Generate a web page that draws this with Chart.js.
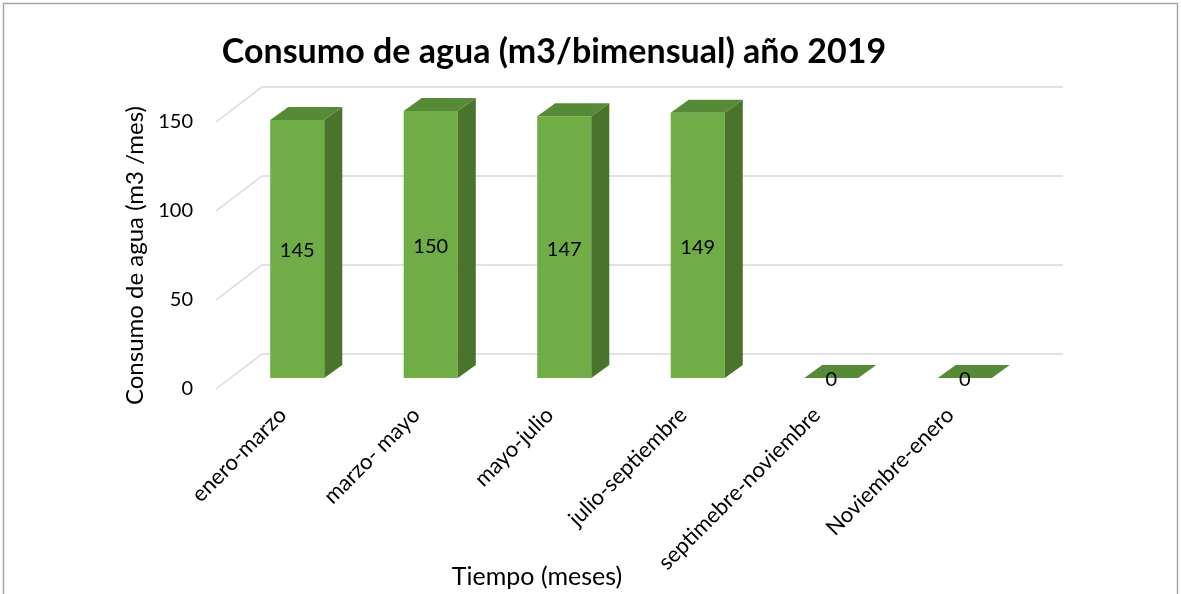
<!DOCTYPE html>
<html>
<head>
<meta charset="utf-8">
<script src="https://cdn.jsdelivr.net/npm/chart.js@4.4.0/dist/chart.umd.min.js"></script>
<style>
  html, body { margin: 0; padding: 0; background: #fff; }
</style>
</head>
<body>
<canvas id="myChart" width="1181" height="594"></canvas>
<script>
const categories = ['enero-marzo', 'marzo- mayo', 'mayo-julio', 'julio-septiembre', 'septimebre-noviembre', 'Noviembre-enero'];
const consumo = [145, 150, 147, 149, 0, 0];
const yTicks = [0, 50, 100, 150];

const FONT = 'Lato, "Open Sans", sans-serif';
// 3d look: bars sit a bit behind the front plane, back wall further back
const BAR_DX = 14.5, BAR_DY = -11;
const BACK_DX = 46, BACK_DY = -35;
const DEPTH_DX = 18, DEPTH_DY = -13;

const depth3d = {
    id: 'depth3d',
    beforeDraw(chart) {
        const c = chart.ctx;
        c.save();
        c.fillStyle = '#fff';
        c.fillRect(0, 0, chart.width, chart.height);
        c.strokeStyle = '#a6a6a6';
        c.lineWidth = 1.5;
        c.strokeRect(3.5, 3.5, chart.width - 7, chart.height + 10);
        c.restore();
    },
    beforeDatasetsDraw(chart) {
        const c = chart.ctx;
        const y = chart.scales.y;
        const a = chart.chartArea;
        c.save();
        c.strokeStyle = '#d9d9d9';
        c.lineWidth = 1.5;
        yTicks.forEach(v => {
            const py = y.getPixelForValue(v);
            c.beginPath();
            c.moveTo(a.left, py);
            c.lineTo(a.left + BACK_DX, py + BACK_DY);
            c.lineTo(a.right + BACK_DX, py + BACK_DY);
            c.stroke();
        });
        c.restore();
        c.save();
        c.translate(BAR_DX, BAR_DY);
    },
    afterDatasetsDraw(chart) {
        const c = chart.ctx;
        const meta = chart.getDatasetMeta(0);
        meta.data.forEach((bar, i) => {
            const p = bar.getProps(['x', 'y', 'base', 'width'], true);
            const l = p.x - p.width / 2, r = p.x + p.width / 2;
            // side face
            c.fillStyle = '#4a732b';
            c.beginPath();
            c.moveTo(r, p.y);
            c.lineTo(r + DEPTH_DX, p.y + DEPTH_DY);
            c.lineTo(r + DEPTH_DX, p.base + DEPTH_DY);
            c.lineTo(r, p.base);
            c.closePath();
            c.fill();
            // top face
            c.fillStyle = '#578a36';
            c.beginPath();
            c.moveTo(l, p.y);
            c.lineTo(l + DEPTH_DX, p.y + DEPTH_DY);
            c.lineTo(r + DEPTH_DX, p.y + DEPTH_DY);
            c.lineTo(r, p.y);
            c.closePath();
            c.fill();
            // value label
            c.fillStyle = '#000';
            c.font = '20px ' + FONT;
            c.textAlign = 'center';
            c.textBaseline = 'middle';
            c.fillText(String(consumo[i]), p.x, (p.y + p.base) / 2 + 2);
        });
        c.restore();
    },
    afterDraw(chart) {
        const c = chart.ctx;
        c.save();
        c.fillStyle = '#000';
        c.textAlign = 'center';
        c.textBaseline = 'middle';
        c.font = 'bold 34px ' + FONT;
        c.fillText('Consumo de agua (m3/bimensual) año 2019', 554, 52);
        c.font = '25px ' + FONT;
        c.fillText('Tiempo (meses)', 537, 577);
        c.restore();
    }
};

const ctx = document.getElementById('myChart').getContext('2d');
const myChart = new Chart(ctx, {
    type: 'bar',
    data: {
        labels: categories,
        datasets: [{
            label: 'Consumo',
            data: consumo,
            backgroundColor: '#70ad47',
            borderWidth: 0,
            barPercentage: 0.405,
            categoryPercentage: 1,
            clip: false
        }]
    },
    options: {
        responsive: false,
        animation: false,
        layout: {
            padding: { top: 122, right: 164, bottom: 0, left: 0 }
        },
        plugins: {
            legend: { display: false },
            tooltip: { enabled: false }
        },
        scales: {
            x: {
                grid: { display: false },
                border: { display: false },
                ticks: {
                    color: '#000',
                    font: { family: FONT, size: 22 },
                    minRotation: 45,
                    maxRotation: 45,
                    autoSkip: false,
                    padding: 5
                },
                afterFit(s) { s.height = 205; }
            },
            y: {
                min: 0,
                max: 150,
                grid: { display: false, drawTicks: false },
                border: { display: false },
                ticks: {
                    stepSize: 50,
                    color: '#000',
                    font: { family: FONT, size: 20 },
                    padding: 23
                },
                title: {
                    display: true,
                    text: 'Consumo de agua (m3 /mes)',
                    color: '#000',
                    font: { family: FONT, size: 24 },
                    padding: { top: 121, bottom: 0 }
                },
                afterFit(s) { s.width = 216; }
            }
        }
    },
    plugins: [depth3d]
});
</script>
</body>
</html>
